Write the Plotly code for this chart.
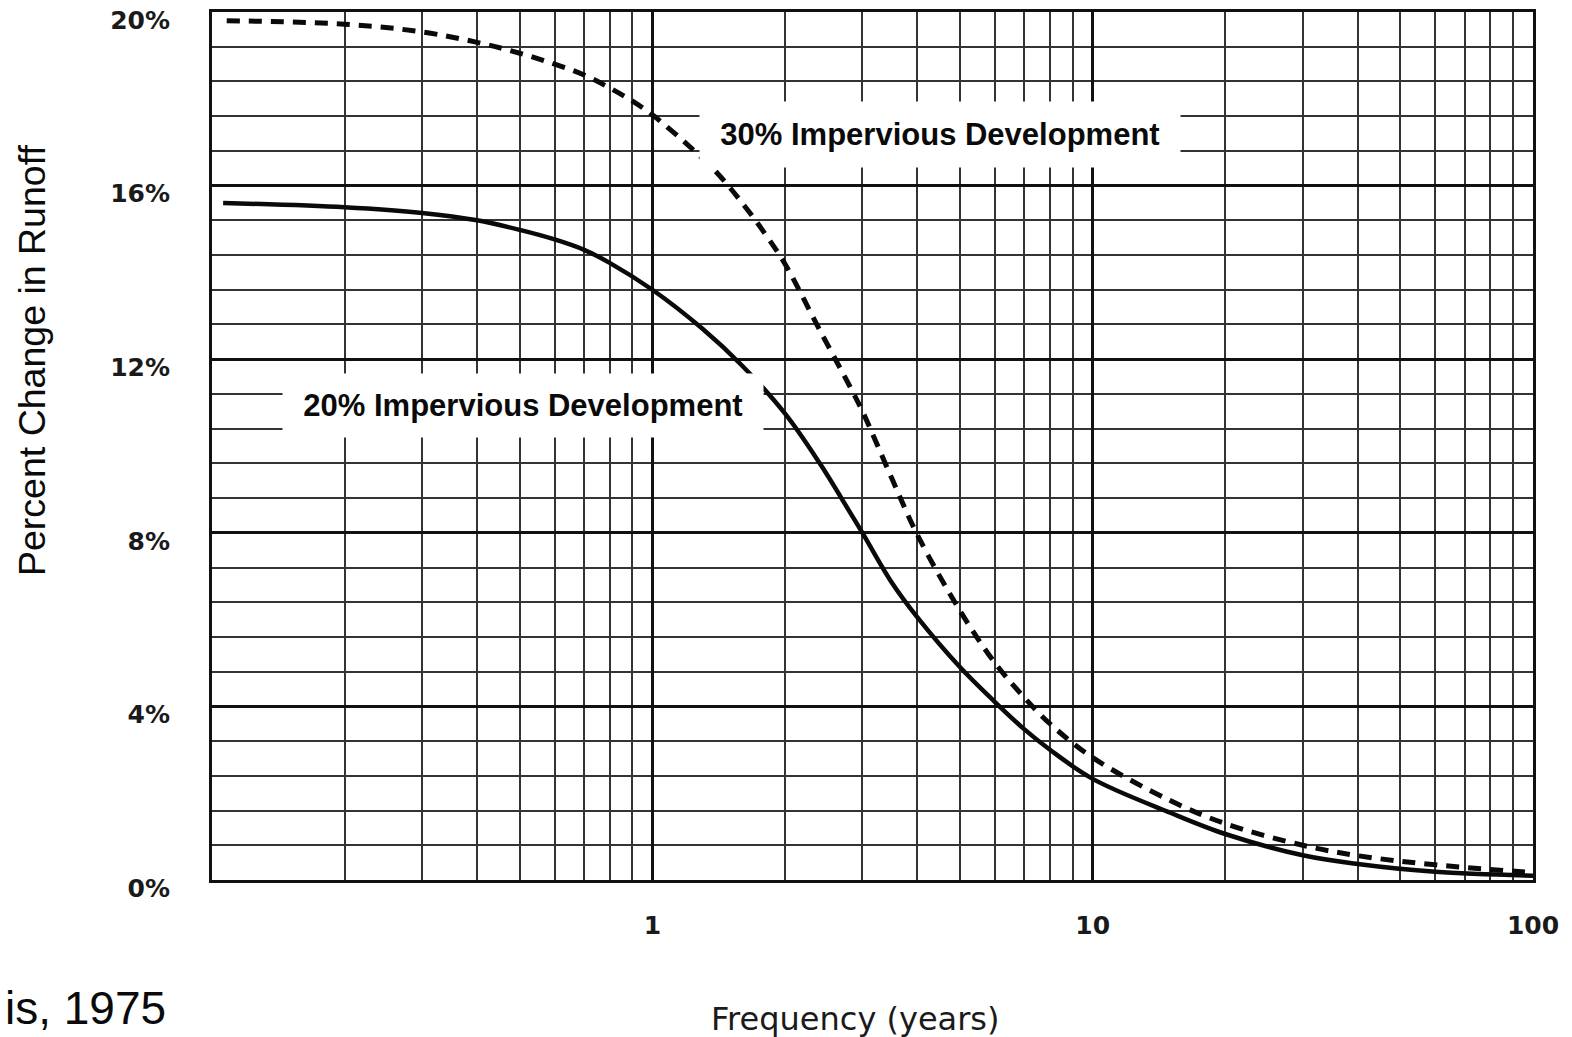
import plotly.graph_objects as go

# ---- data ----
freq_20 = [0.106, 0.2, 0.3, 0.4, 0.5, 0.6, 0.7, 0.8, 1.0, 1.3, 1.6, 2.0, 2.4, 2.8, 3.0, 3.5,
           4.0, 5.0, 6.0, 7.0, 8.0, 10, 15, 20, 30, 40, 60, 100]
runoff_20 = [15.6, 15.5, 15.37, 15.2, 14.98, 14.76, 14.52, 14.22, 13.6, 12.7, 11.85, 10.75, 9.6,
             8.5, 8.0, 6.85, 6.05, 4.9, 4.1, 3.47, 3.0, 2.33, 1.55, 1.06, 0.57, 0.37, 0.19, 0.1]

freq_30 = [0.108, 0.2, 0.3, 0.4, 0.5, 0.6, 0.7, 0.8, 0.9, 1.0, 1.2, 1.4, 1.6, 1.8, 2.0, 2.4, 2.8,
           3.0, 3.5, 4.0, 5.0, 6.0, 7.0, 8.0, 10, 15, 20, 30, 40, 60, 100]
runoff_30 = [19.8, 19.72, 19.54, 19.3, 19.05, 18.8, 18.55, 18.25, 17.95, 17.63, 16.95, 16.3, 15.6,
             14.9, 14.2, 12.67, 11.4, 10.8, 9.25, 7.95, 6.2, 5.0, 4.2, 3.6, 2.82, 1.83, 1.3,
             0.8, 0.56, 0.35, 0.17]

x_major_ticks = [1, 10, 100]
x_major_labels = ["1", "10", "100"]
x_minor_ticks = [m * d for d in (0.1, 1, 10) for m in range(2, 10)]
y_major_ticks = [0, 4, 8, 12, 16, 20]
y_major_labels = ["0%", "4%", "8%", "12%", "16%", "20%"]

label_20 = "20% Impervious Development"
label_30 = "30% Impervious Development"

# ---- figure ----
L, R, T, B = 212, 39, 12, 157
W, H = 1572, 1037
PW, PH = W - L - R, H - T - B


def px(xp):
    return (xp - L) / PW


def py(yp):
    return (H - B - yp) / PH


fig = go.Figure()
fig.add_trace(go.Scatter(x=freq_20, y=runoff_20, mode="lines",
                         line=dict(color="#0a0a0a", width=4.5, shape="spline", smoothing=1.0),
                         showlegend=False, hoverinfo="skip"))
fig.add_trace(go.Scatter(x=freq_30, y=runoff_30, mode="lines",
                         line=dict(color="#0a0a0a", width=5, dash="13px,9px", shape="spline",
                                   smoothing=1.0),
                         showlegend=False, hoverinfo="skip"))

tick_font = dict(family="DejaVu Sans", size=25, color="#1a1a1a", weight="bold")
label_font = dict(family="Liberation Sans, Arial, sans-serif", size=31, color="#0a0a0a",
                  weight="bold")

fig.update_layout(
    width=W, height=H,
    margin=dict(l=L, r=R, t=T, b=B, autoexpand=False),
    paper_bgcolor="white", plot_bgcolor="white",
    xaxis=dict(
        type="log", range=[-1, 2], automargin=False,
        tickvals=x_major_ticks, ticktext=x_major_labels,
        tickfont=tick_font, ticks="", ticklabelstandoff=21, ticklabeloverflow="allow",
        showgrid=True, gridcolor="#111111", gridwidth=2.8,
        showline=True, linecolor="#111111", linewidth=3, mirror=True,
        zeroline=False,
        minor=dict(tickvals=x_minor_ticks, showgrid=True, gridcolor="#333333", gridwidth=1.8,
                   ticks=""),
    ),
    yaxis=dict(
        range=[0, 20], automargin=False,
        tickvals=y_major_ticks, ticktext=y_major_labels,
        tickfont=tick_font, ticks="", ticklabelstandoff=34, ticklabelshift=8,
        ticklabeloverflow="allow",
        showgrid=True, gridcolor="#111111", gridwidth=2.8,
        showline=True, linecolor="#111111", linewidth=3, mirror=True,
        zeroline=False,
        minor=dict(dtick=0.8, tick0=0, showgrid=True, gridcolor="#333333", gridwidth=1.8,
                   ticks=""),
    ),
    annotations=[
        dict(text=label_30, xref="paper", yref="paper", x=px(940), y=py(134.5),
             xanchor="center", yanchor="middle",
             showarrow=False, bgcolor="white", width=460, height=45, borderpad=10,
             font=label_font),
        dict(text=label_20, xref="paper", yref="paper", x=px(523), y=py(405.5),
             xanchor="center", yanchor="middle",
             showarrow=False, bgcolor="white", width=460, height=43, borderpad=10,
             font=label_font),
        dict(text="Frequency (years)", xref="paper", yref="paper", x=px(855), y=py(1019),
             xanchor="center", yanchor="middle",
             showarrow=False, font=dict(family="DejaVu Sans", size=32, color="#1a1a1a")),
        dict(text="Percent Change in Runoff", xref="paper", yref="paper", x=px(32), y=py(361),
             xanchor="center", yanchor="middle",
             showarrow=False, textangle=-90,
             font=dict(family="Liberation Sans, Arial, sans-serif", size=37.5, color="#0a0a0a")),
        dict(text="is, 1975", xref="paper", yref="paper", x=px(3), y=py(1008),
             xanchor="left", yanchor="middle", showarrow=False,
             font=dict(family="Liberation Sans, Arial, sans-serif", size=46, color="#0a0a0a")),
    ],
)

fig.write_html("out.html")
